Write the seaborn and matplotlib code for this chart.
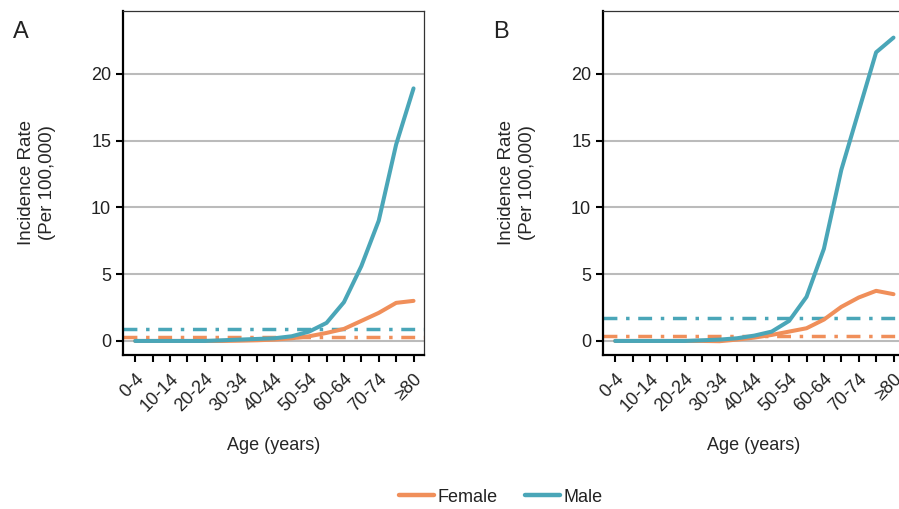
import pandas as pd
import seaborn as sns
import matplotlib.pyplot as plt
from matplotlib.lines import Line2D

# age groups (17 groups, labels shown on every other tick)
age_groups = ['0-4', '5-9', '10-14', '15-19', '20-24', '25-29', '30-34', '35-39',
              '40-44', '45-49', '50-54', '55-59', '60-64', '65-69', '70-74', '75-79', '≥80']

# panel A
male_a = [0, 0, 0, 0, 0, 0.05, 0.1, 0.15, 0.2, 0.35, 0.7, 1.35, 2.9, 5.6, 9.0, 14.7, 18.9]
female_a = [0, 0, 0, 0, 0, 0, 0.02, 0.05, 0.1, 0.2, 0.35, 0.6, 0.9, 1.5, 2.1, 2.85, 3.0]
male_a_avg = 0.9
female_a_avg = 0.32

# panel B
male_b = [0, 0, 0, 0, 0, 0.05, 0.1, 0.2, 0.4, 0.7, 1.5, 3.3, 6.9, 12.8, 17.2, 21.6, 22.7]
female_b = [0, 0, 0, 0, 0, 0, -0.02, 0.1, 0.25, 0.45, 0.7, 0.95, 1.6, 2.55, 3.25, 3.75, 3.5]
male_b_avg = 1.7
female_b_avg = 0.4

sexes = ['Female', 'Male']
colors = {'Female': '#F08F5A', 'Male': '#4AA6B8'}

sns.set_style('white')
plt.rcParams['font.family'] = ['Liberation Sans', 'DejaVu Sans']
plt.rcParams['text.color'] = '#222222'

fig = plt.figure(figsize=(8.99, 5.09), dpi=100)
ax_a = fig.add_axes([0.1368, 0.3026, 0.3348, 0.676])
ax_b = fig.add_axes([0.6707, 0.3026, 0.3348, 0.676])


def long_df(female, male):
    return pd.DataFrame({
        'age': age_groups * 2,
        'rate': female + male,
        'sex': ['Female'] * len(female) + ['Male'] * len(male),
    })


panels = [
    (ax_a, 'A', female_a, male_a, female_a_avg, male_a_avg),
    (ax_b, 'B', female_b, male_b, female_b_avg, male_b_avg),
]

dashdot = (0, (4, 2.5, 1, 2.5))

for ax, letter, female, male, f_avg, m_avg in panels:
    ax.yaxis.grid(True, color='#BBBBBB', linewidth=1.5)
    ax.set_axisbelow(True)
    ax.axhline(m_avg, color=colors['Male'], linewidth=2.5, linestyle=dashdot)
    ax.axhline(f_avg, color=colors['Female'], linewidth=2.5, linestyle=dashdot)
    sns.lineplot(data=long_df(female, male), x='age', y='rate', hue='sex',
                 hue_order=sexes, palette=colors, linewidth=2.9, ax=ax, legend=False)
    ax.set_xlim(-0.7, 16.6)
    ax.set_ylim(-1.05, 24.7)
    ax.set_yticks([0, 5, 10, 15, 20])
    ax.set_xticks(range(len(age_groups)))
    ax.set_xticklabels([g if i % 2 == 0 else '' for i, g in enumerate(age_groups)],
                       rotation=45, ha='right', rotation_mode='anchor')
    ax.tick_params(axis='both', direction='out', length=5, width=1.5, colors='black',
                   labelcolor='#222222', labelsize=13, left=True, bottom=True)
    ax.tick_params(axis='x', pad=6)
    for side in ['left', 'bottom']:
        ax.spines[side].set_linewidth(1.6)
        ax.spines[side].set_color('black')
    for side in ['top', 'right']:
        ax.spines[side].set_linewidth(0.9)
        ax.spines[side].set_color('#333333')
    ax.set_xlabel('Age (years)', fontsize=13, labelpad=16)
    ax.set_ylabel('Incidence Rate\n(Per 100,000)', fontsize=13.5, labelpad=25, linespacing=1.35)
    ax.text(-0.365, 0.94, letter, transform=ax.transAxes, fontsize=17, ha='left', va='center')

handles = [Line2D([], [], color=colors[s], linewidth=3.2) for s in sexes]
fig.legend(handles, sexes, loc='center', bbox_to_anchor=(0.557, 0.023), ncol=2,
           frameon=False, fontsize=13, handlelength=1.95, handletextpad=0.2, columnspacing=1.5)

fig.savefig('out.png', dpi=100)
